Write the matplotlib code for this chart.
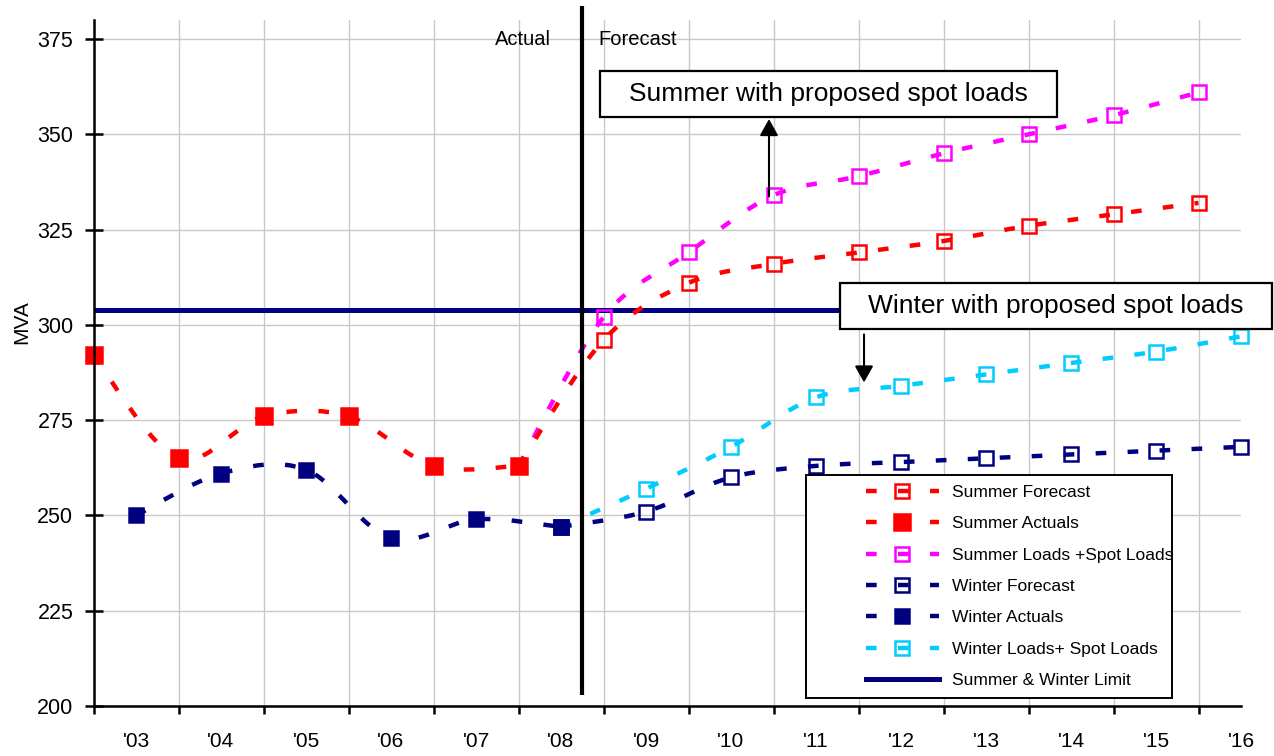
import matplotlib
matplotlib.use('Agg')
import matplotlib.pyplot as plt
from matplotlib.path import Path
from matplotlib.patches import PathPatch, Rectangle
from matplotlib.lines import Line2D
import numpy as np

# ---------------- data ----------------
year_labels = ["'03", "'04", "'05", "'06", "'07", "'08", "'09", "'10",
               "'11", "'12", "'13", "'14", "'15", "'16"]
year_pos = list(range(len(year_labels)))

summer_act_x = [-0.5, 0.5, 1.5, 2.5, 3.5, 4.5]
summer_act = [292, 265, 276, 276, 263, 263]

winter_act_x = [0, 1, 2, 3, 4, 5]
winter_act = [250, 261, 262, 244, 249, 247]

summer_fc_x = [4.5, 5.5, 6.5, 7.5, 8.5, 9.5, 10.5, 11.5, 12.5]
summer_fc = [263, 296, 311, 316, 319, 322, 326, 329, 332]
summer_spot = [263, 302, 319, 334, 339, 345, 350, 355, 361]

winter_fc_x = [5, 6, 7, 8, 9, 10, 11, 12, 13]
winter_fc = [247, 251, 260, 263, 264, 265, 266, 267, 268]
winter_spot = [247, 257, 268, 281, 284, 287, 290, 293, 297]

limit_value = 304
divider_x = 5.25

RED = '#FF0000'
MAGENTA = '#FF00FF'
NAVY = '#000080'
CYAN = '#00CCFF'

ARIAL = ['Liberation Sans', 'DejaVu Sans']
plt.rcParams['font.family'] = ARIAL

DASH = (0, (2.4, 4.8))
LW = 3.2


def smooth_path(xs, ys):
    P = np.column_stack([xs, ys]).astype(float)
    n = len(P)
    verts = [P[0]]
    codes = [Path.MOVETO]
    for i in range(n - 1):
        p0 = P[i - 1] if i > 0 else P[i]
        p1 = P[i]
        p2 = P[i + 1]
        p3 = P[i + 2] if i + 2 < n else P[i + 1]
        c1 = p1 + (p2 - p0) / 6.0
        c2 = p2 - (p3 - p1) / 6.0
        verts += [c1, c2, p2]
        codes += [Path.CURVE4] * 3
    return Path(verts, codes)


fig = plt.figure(figsize=(12.74, 7.56), dpi=100)
ax = fig.add_axes([93.5 / 1274, 50 / 756, (1241 - 93.5) / 1274, 686 / 756])
ax.set_xlim(-0.5, 13)
ax.set_ylim(200, 380)


def series(x, y, color, mfc, ms, z):
    ax.add_patch(PathPatch(smooth_path(x, y), fill=False, edgecolor=color,
                           lw=LW, linestyle=DASH, capstyle='butt', zorder=z))
    ax.plot(x, y, linestyle='none', marker='s', ms=ms, mfc=mfc, mec=color,
            mew=1.8, zorder=z + 0.5, clip_on=False)


# limit line
ax.axhline(limit_value, color=NAVY, lw=3.6, zorder=2)

series(summer_fc_x, summer_spot, MAGENTA, 'none', 9.5, 3)
series(summer_fc_x, summer_fc, RED, 'none', 9.5, 3.2)
series(winter_fc_x, winter_spot, CYAN, 'none', 9.5, 3)
series(winter_fc_x, winter_fc, NAVY, 'none', 10, 3.2)
series(summer_act_x, summer_act, RED, RED, 12, 4)
series(winter_act_x, winter_act, NAVY, NAVY, 10.5, 4)

# divider
ax.plot([divider_x, divider_x], [203, 383.6], color='black', lw=3,
        clip_on=False, zorder=6, solid_capstyle='butt')
ax.text(4.88, 375, 'Actual', ha='right', va='center', fontsize=14.5,
        family=ARIAL, zorder=7)
ax.text(5.435, 375, 'Forecast', ha='left', va='center', fontsize=14.5,
        family=ARIAL, zorder=7)

# annotation boxes
ax.add_patch(Rectangle((5.46, 354.5), 10.84 - 5.46, 366.6 - 354.5,
                       facecolor='white', edgecolor='black', lw=1.6,
                       clip_on=False, zorder=8))
ax.text((5.46 + 10.84) / 2, (354.5 + 366.6) / 2, 'Summer with proposed spot loads',
        ha='center', va='center', fontsize=19, family=ARIAL, zorder=9)
ax.add_patch(Rectangle((8.28, 299.05), 13.36 - 8.28, 311.1 - 299.05,
                       facecolor='white', edgecolor='black', lw=1.6,
                       clip_on=False, zorder=8))
ax.text((8.28 + 13.36) / 2, (299.05 + 311.1) / 2, 'Winter with proposed spot loads',
        ha='center', va='center', fontsize=19, family=ARIAL, zorder=9)

arrow = dict(arrowstyle='-|>,head_length=0.5,head_width=0.28', color='black',
             lw=1.5, mutation_scale=20, shrinkA=0, shrinkB=0)
ax.annotate('', xy=(7.447, 354.0), xytext=(7.447, 333.7), arrowprops=arrow,
            zorder=9)
ax.annotate('', xy=(8.565, 284.9), xytext=(8.565, 297.5), arrowprops=arrow,
            zorder=9)

# axes styling
for s in ['top', 'right']:
    ax.spines[s].set_visible(False)
for s in ['left', 'bottom']:
    ax.spines[s].set_linewidth(1.8)
    ax.spines[s].set_zorder(5)

ax.set_yticks(np.arange(200, 376, 25))
ax.set_xticks(np.arange(-0.5, 12.6, 1.0))
ax.set_xticks(year_pos, minor=True)
ax.set_xticklabels(year_labels, minor=True)
ax.tick_params(axis='x', which='major', direction='out', length=6, width=1.8,
               labelbottom=False)
ax.tick_params(axis='x', which='minor', length=0, pad=19, labelsize=15)
ax.tick_params(axis='y', direction='inout', length=13, width=1.8, pad=8,
               labelsize=15.5)

ax.grid(True, which='major', color='#C8C8C8', lw=1)
ax.set_axisbelow(True)

fig.text(22 / 1274, 1 - 322 / 756, 'MVA', rotation=90, ha='center', va='center',
         fontsize=15)

# legend
handles = [
    Line2D([], [], color=RED, lw=LW, ls=DASH, marker='s', ms=9.5, mfc='none', mec=RED, mew=1.8),
    Line2D([], [], color=RED, lw=LW, ls=DASH, marker='s', ms=12, mfc=RED, mec=RED, mew=1.8),
    Line2D([], [], color=MAGENTA, lw=LW, ls=DASH, marker='s', ms=9.5, mfc='none', mec=MAGENTA, mew=1.8),
    Line2D([], [], color=NAVY, lw=LW, ls=DASH, marker='s', ms=9.5, mfc='none', mec=NAVY, mew=1.8),
    Line2D([], [], color=NAVY, lw=LW, ls=DASH, marker='s', ms=10.5, mfc=NAVY, mec=NAVY, mew=1.8),
    Line2D([], [], color=CYAN, lw=LW, ls=DASH, marker='s', ms=9.5, mfc='none', mec=CYAN, mew=1.8),
    Line2D([], [], color=NAVY, lw=3.6),
]
labels = ['Summer Forecast', 'Summer Actuals', 'Summer Loads +Spot Loads',
          'Winter Forecast', 'Winter Actuals', 'Winter Loads+ Spot Loads',
          'Summer & Winter Limit']
ax_w = 1241 - 93.5
ax_h = 686
ax.add_patch(Rectangle(((806 - 93.5) / ax_w, (706 - 698) / ax_h),
                       (1172 - 806) / ax_w, (698 - 475) / ax_h,
                       transform=ax.transAxes, facecolor='white',
                       edgecolor='black', lw=1.4, zorder=10, clip_on=False))
leg = ax.legend(handles, labels, loc='upper left',
                bbox_to_anchor=((866 - 93.5) / ax_w, (706 - 485) / ax_h),
                frameon=False, borderpad=0, borderaxespad=0,
                handlelength=4.2, handletextpad=0.75, labelspacing=0.93,
                prop={'size': 12.5})
leg.set_zorder(11)

fig.savefig('out.png', dpi=100)
